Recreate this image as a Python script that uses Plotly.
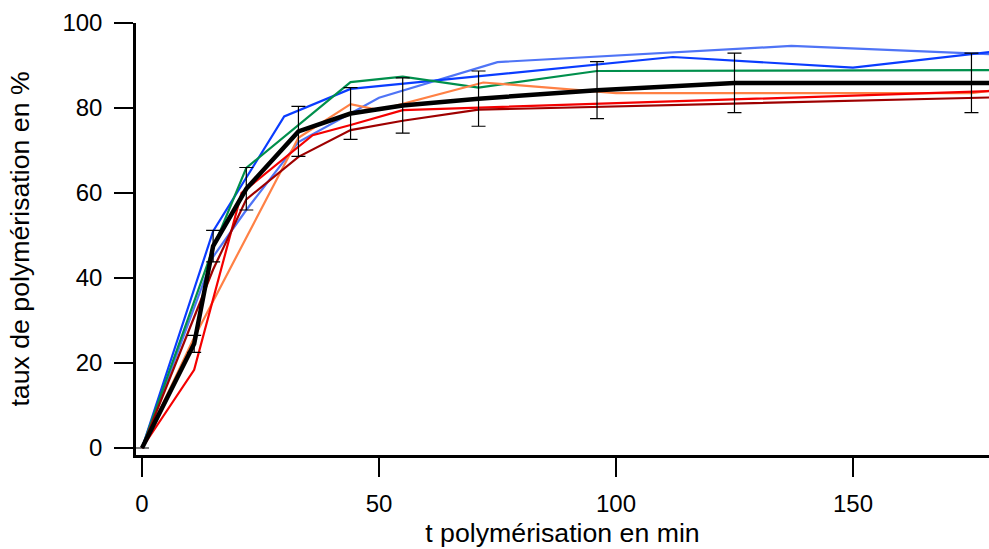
import plotly.graph_objects as go

# ---- data ----
lightblue_t = [0, 15, 22, 33, 50, 75, 137, 180]
lightblue_v = [0, 45, 56, 72, 82.4, 90.8, 94.6, 92.6]

blue_t = [0, 15, 30, 44, 112, 150, 180]
blue_v = [0, 51, 78, 84.5, 92, 89.5, 93.3]

green_t = [0, 15, 22, 44, 55, 71, 96, 180]
green_v = [0, 47, 65.9, 86.1, 87.4, 84.8, 88.7, 88.9]

orange_t = [0, 11, 33, 44, 50, 72, 100, 175, 180]
orange_v = [0, 26, 73, 80.9, 79.5, 86, 83.5, 83.5, 84.2]

red_t = [0, 11, 21, 36, 44, 55, 180]
red_v = [0, 18.4, 60, 73.6, 76, 79.5, 84]

darkred_t = [0, 15, 22, 33, 44, 55, 71, 180]
darkred_v = [0, 42, 58.5, 68.5, 74.8, 77, 79.6, 82.5]

mean_t = [0, 11, 15, 22, 33, 44, 55, 71, 96, 125, 175, 180]
mean_v = [0, 24.5, 47.5, 61, 74.5, 78.7, 80.6, 82.2, 84.2, 85.9, 85.9, 85.9]
mean_err = [0, 2, 3.7, 5, 5.9, 6.1, 6.5, 6.5, 6.7, 7, 7, float("nan")]

x_ticks = [0, 50, 100, 150]
y_ticks = [0, 20, 40, 60, 80, 100]

series = [
    (lightblue_t, lightblue_v, "#4f74f6"),
    (blue_t, blue_v, "#0a3cff"),
    (green_t, green_v, "#008f4c"),
    (orange_t, orange_v, "#ff8145"),
    (red_t, red_v, "#f40000"),
    (darkred_t, darkred_v, "#9e0000"),
]

fig = go.Figure()
for t, v, c in series:
    fig.add_trace(go.Scatter(x=t, y=v, mode="lines",
                             line=dict(color=c, width=2.2), showlegend=False))

fig.add_trace(go.Scatter(
    x=mean_t, y=mean_v, mode="lines",
    line=dict(color="black", width=4.5),
    error_y=dict(type="data", array=mean_err, visible=True,
                 color="black", thickness=1.2, width=7),
    showlegend=False))

font = "Liberation Sans, Arial, sans-serif"
fig.update_layout(
    width=989, height=549,
    margin=dict(l=136, r=0, t=23, b=94),
    plot_bgcolor="white", paper_bgcolor="white",
    font=dict(family=font, size=24, color="black"),
    xaxis=dict(range=[-1.27, 178.7], tickvals=x_ticks, ticks="outside",
               ticklen=19, tickwidth=2, tickcolor="black",
               showline=True, linecolor="black", linewidth=2.5,
               showgrid=False, zeroline=False, ticklabelstandoff=6,
               automargin=False,
               title=dict(text="t polymérisation en min", standoff=8,
                          font=dict(size=26.7, family=font))),
    yaxis=dict(range=[-1.65, 100], tickvals=y_ticks, ticks="outside",
               ticklen=19, tickwidth=2, tickcolor="black",
               showline=True, linecolor="black", linewidth=2.5,
               showgrid=False, zeroline=False, ticklabelstandoff=7,
               automargin=False,
               title=dict(text="taux de polymérisation en %", standoff=26,
                          font=dict(size=26.7, family=font))),
)

fig.write_html("out.html",
               config={"displayModeBar": False},
               post_script="document.body.style.margin='0';"
                           "document.body.style.overflow='hidden';")
